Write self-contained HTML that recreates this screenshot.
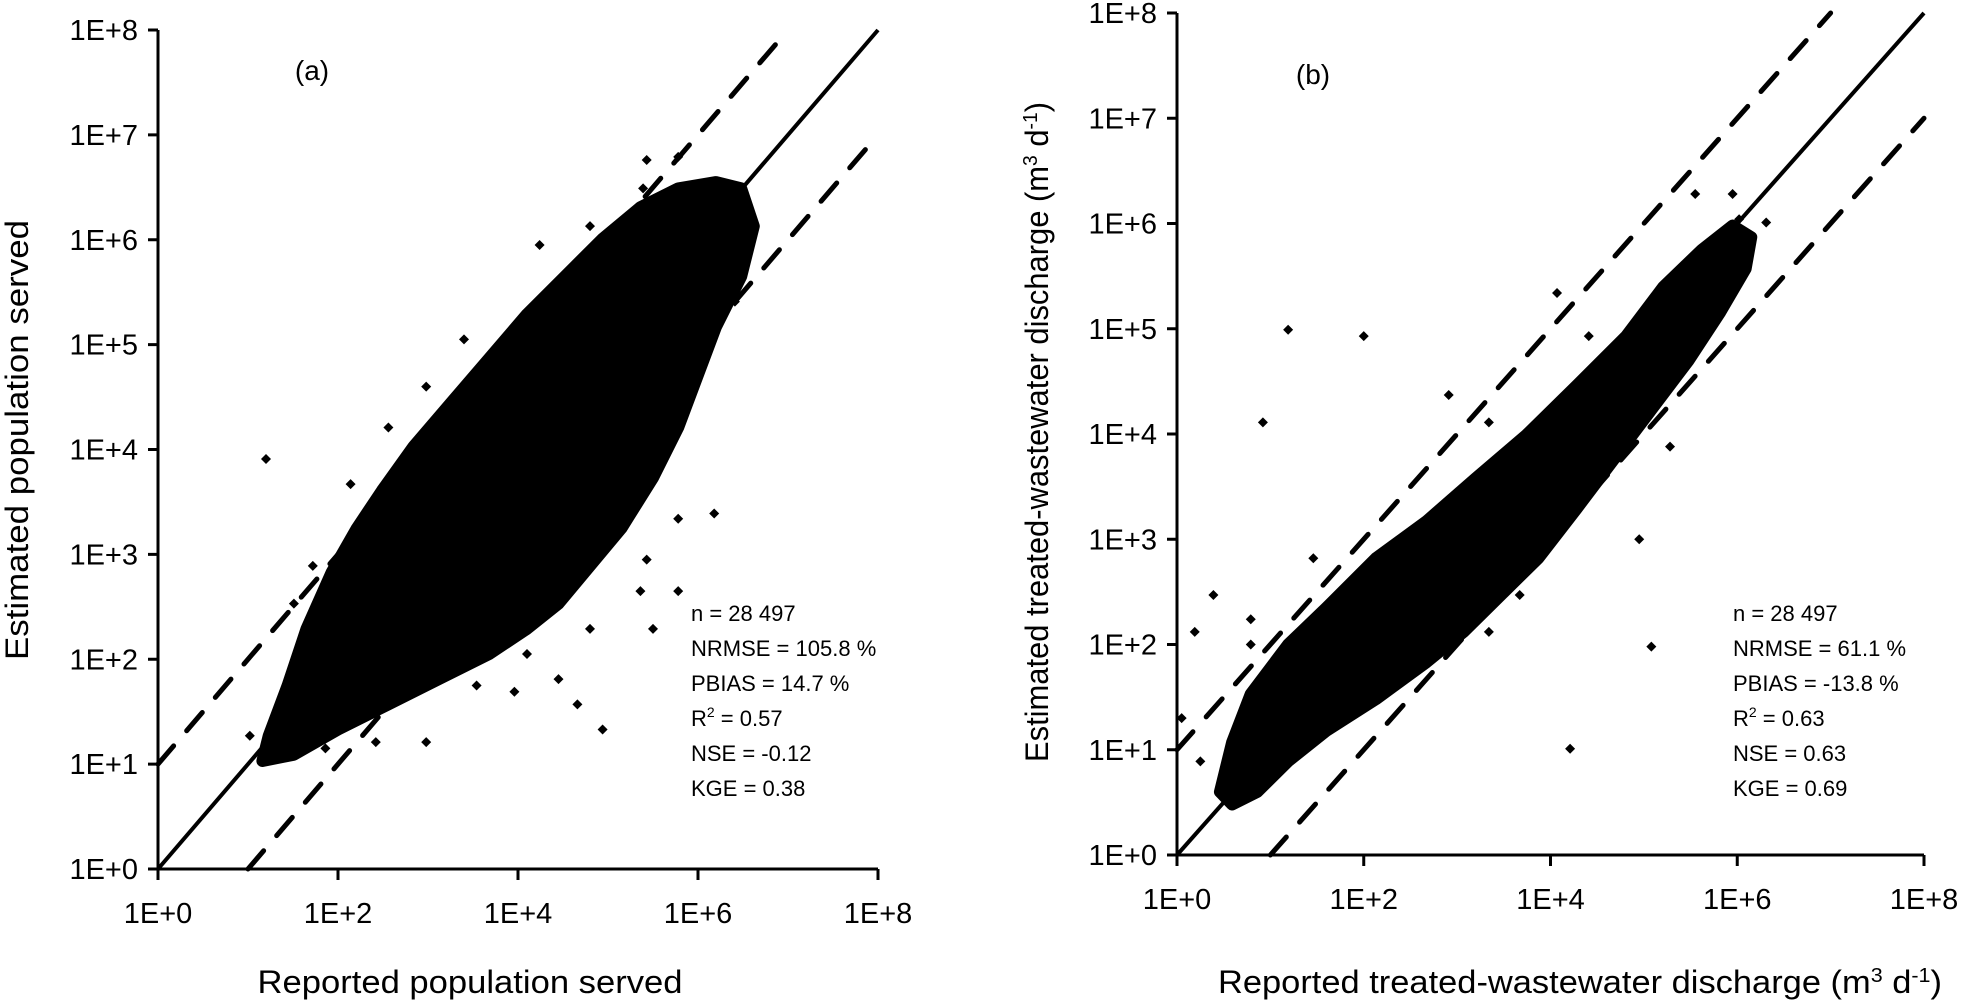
<!DOCTYPE html>
<html><head><meta charset="utf-8"><style>
html,body{margin:0;padding:0;background:#fff;}
svg{display:block;font-family:"Liberation Sans",sans-serif;}
</style></head><body>
<svg id="fig" width="1962" height="1001" viewBox="0 0 1962 1001">
<g id="pa"></g>
<g id="pb"></g>
</svg>
<script>
// Tick exponents (shared)
const yTickExps = [0,1,2,3,4,5,6,7,8];
const xTickExps = [0,2,4,6,8];
// Panel (a) dense cloud outline (log10 reported, log10 estimated)
const cloudA_x = [1.23,1.44,1.65,1.93,2.21,2.49,2.84,3.26,3.68,4.10,4.52,4.94,5.36,5.78,6.20,6.48,6.62,6.48,6.20,5.99,5.78,5.50,5.15,4.80,4.45,4.10,3.68,3.12,2.56,2.00,1.51,1.16];
const cloudA_y = [1.27,1.75,2.29,2.83,3.25,3.61,4.03,4.45,4.87,5.29,5.65,6.01,6.31,6.49,6.55,6.49,6.13,5.65,5.17,4.69,4.21,3.73,3.25,2.89,2.53,2.29,2.05,1.81,1.57,1.33,1.09,1.03];
// Panel (a) scattered points
const outA_x = [1.20,5.43,5.78,5.39,6.18,5.78,5.43,5.36,5.78,5.50,4.66,4.45,3.96,3.54,2.98,2.42,1.86,1.44,1.51,1.72,2.14,2.56,3.40,4.24,4.80,6.06,6.34,6.41,4.94,4.80,4.10,1.02,2.98];
const outA_y = [3.91,6.76,6.79,6.49,3.39,2.65,2.95,2.65,3.34,2.29,1.57,1.81,1.69,1.75,1.21,1.21,1.15,1.75,2.53,2.89,3.67,4.21,5.05,5.95,6.13,6.37,5.95,5.41,1.33,2.29,2.05,1.27,4.60];
// Panel (b) dense cloud outline
const cloudB_x = [0.59,0.79,1.19,1.60,2.13,2.67,3.20,3.74,4.28,4.81,5.21,5.62,5.95,6.15,6.09,5.82,5.48,5.08,4.68,4.28,3.87,3.47,3.07,2.67,2.13,1.60,1.19,0.86,0.59,0.46];
const cloudB_y = [1.07,1.53,2.00,2.35,2.82,3.17,3.58,3.99,4.46,4.93,5.40,5.75,5.98,5.87,5.57,5.16,4.70,4.23,3.76,3.29,2.82,2.47,2.12,1.83,1.48,1.18,0.89,0.60,0.48,0.60];
// Panel (b) scattered points
const outB_x = [1.19,2.00,2.91,0.92,3.34,4.52,4.07,5.55,6.02,6.31,5.95,5.08,4.21,4.95,5.28,3.67,3.34,2.80,1.86,2.40,0.79,0.39,0.19,0.05,0.25,0.59,0.79,1.46,4.41];
const outB_y = [4.99,4.93,4.37,4.11,4.11,4.70,5.34,6.28,6.04,6.01,6.28,1.98,1.01,3.00,3.88,2.47,2.12,2.59,1.71,1.77,2.00,2.47,2.12,1.30,0.89,0.48,2.24,2.82,4.93];
const statsA = ["n = 28 497","NRMSE  = 105.8 %","PBIAS = 14.7 %","R² = 0.57","NSE = -0.12","KGE = 0.38"];
const statsB = ["n = 28 497","NRMSE  = 61.1 %","PBIAS = -13.8 %","R² = 0.63","NSE = 0.63","KGE = 0.69"];

const NS="http://www.w3.org/2000/svg";
function mk(parent,tag,attrs,text){const e=document.createElementNS(NS,tag);for(const k in attrs)e.setAttribute(k,attrs[k]);if(text!==undefined)e.textContent=text;parent.appendChild(e);return e;}

function panel(g,cfg){
  const X=v=>cfg.x0+(v/8)*(cfg.x1-cfg.x0);
  const Y=v=>cfg.y0-(v/8)*(cfg.y0-cfg.y1);
  let pts=cfg.cx.map((v,i)=>X(v)+","+Y(cfg.cy[i])).join(" ");
  const cl=mk(g,"polygon",{points:pts,fill:"#000",stroke:"#000","stroke-width":12,"stroke-linejoin":"round"});
  
  
  cfg.ox.forEach((v,i)=>{
    const px=X(v),py=Y(cfg.oy[i]),r=5;
    const d=mk(g,"polygon",{points:`${px},${py-r} ${px+r},${py} ${px},${py+r} ${px-r},${py}`,fill:"#000"});
    
    
  });
  const l1=mk(g,"line",{x1:X(0),y1:Y(0),x2:X(8),y2:Y(8),stroke:"#000","stroke-width":4});
  
  
  const l2=mk(g,"line",{x1:X(0),y1:Y(1),x2:X(7),y2:Y(8),stroke:"#000","stroke-width":5,"stroke-dasharray":"24,20","stroke-linecap":"round"});
  
  
  const l3=mk(g,"line",{x1:X(1),y1:Y(0),x2:X(8),y2:Y(7),stroke:"#000","stroke-width":5,"stroke-dasharray":"24,20","stroke-linecap":"round"});
  
  
  const ya=mk(g,"line",{x1:cfg.x0,y1:cfg.y1,x2:cfg.x0,y2:cfg.y0+1,stroke:"#000","stroke-width":3});
  
  
  const xa=mk(g,"line",{x1:cfg.x0-1,y1:cfg.y0,x2:cfg.x1,y2:cfg.y0,stroke:"#000","stroke-width":3});
  
  
  yTickExps.forEach(e=>{
    mk(g,"line",{x1:cfg.x0-10,y1:Y(e),x2:cfg.x0,y2:Y(e),stroke:"#000","stroke-width":3});
    const t=mk(g,"text",{x:cfg.x0-20,y:Y(e)+10,"font-size":29,"text-anchor":"end"},"1E+"+e);
    
    
  });
  xTickExps.forEach(e=>{
    mk(g,"line",{x1:X(e),y1:cfg.y0,x2:X(e),y2:cfg.y0+11,stroke:"#000","stroke-width":3});
    const t=mk(g,"text",{x:X(e),y:cfg.y0+54,"font-size":29,"text-anchor":"middle"},"1E+"+e);
    
    
  });
  const pl=mk(g,"text",{x:cfg.lx,y:cfg.ly,"font-size":28,"text-anchor":"middle"},cfg.label);
  
  
  cfg.stats.forEach((s,i)=>{
    const t=mk(g,"text",{x:cfg.sx,y:621+i*35,"font-size":22});
    if(s.startsWith("R²")){mk(t,"tspan",{},"R");mk(t,"tspan",{dy:-9,"font-size":14},"2");mk(t,"tspan",{dy:9},s.slice(2));}
    else t.textContent=s;
    
    
  });
  const xt=mk(g,"text",{x:cfg.xtx,y:993,"font-size":32,"text-anchor":"middle",textLength:cfg.xtl,lengthAdjust:"spacingAndGlyphs"});
  cfg.xtitle(xt);
  
  
  const yt=mk(g,"text",{x:0,y:0,"font-size":32,"text-anchor":"middle",textLength:cfg.ytl,lengthAdjust:"spacingAndGlyphs",transform:`translate(${cfg.ytx},${cfg.yty}) rotate(-90)`});
  cfg.ytitle(yt);
  
  
}
function unit(t,pre){mk(t,"tspan",{},pre+" (m");mk(t,"tspan",{dy:-11,"font-size":20},"3");mk(t,"tspan",{dy:11}," d");mk(t,"tspan",{dy:-11,"font-size":20},"-1");mk(t,"tspan",{dy:11},")");}

panel(document.getElementById("pa"),{x0:158,x1:878,y0:869,y1:30,cx:cloudA_x,cy:cloudA_y,ox:outA_x,oy:outA_y,
  label:"(a)",lx:312,ly:80,sx:691,stats:statsA,
  xtx:470,xtl:425,xtitle:t=>{t.textContent="Reported population served";},
  ytx:28,yty:440,ytl:440,ytitle:t=>{t.textContent="Estimated population served";}});
panel(document.getElementById("pb"),{x0:1177,x1:1924,y0:855,y1:13,cx:cloudB_x,cy:cloudB_y,ox:outB_x,oy:outB_y,
  label:"(b)",lx:1313,ly:84,sx:1733,stats:statsB,
  xtx:1580,xtl:724,xtitle:t=>unit(t,"Reported treated-wastewater discharge"),
  ytx:1048,yty:432,ytl:660,ytitle:t=>unit(t,"Estimated treated-wastewater discharge")});
</script>
</body></html>
